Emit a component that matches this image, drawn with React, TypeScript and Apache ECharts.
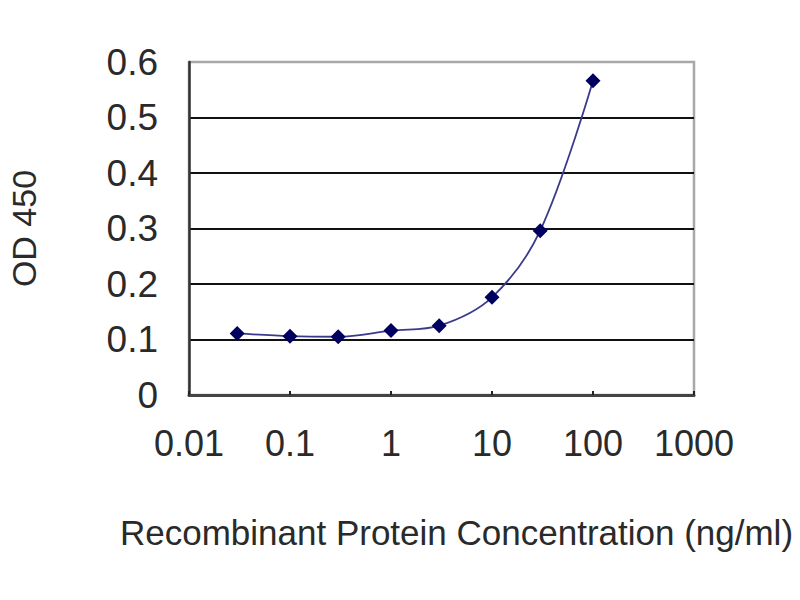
import { useEffect, useRef } from 'react'
import * as echarts from 'echarts'

// concentrations (ng/ml) and OD 450 readings
const concentrations = [0.03, 0.1, 0.3, 1, 3, 10, 30, 100]
const odValues = [0.111, 0.106, 0.105, 0.116, 0.125, 0.176, 0.296, 0.566]

const xTickLabels = ['0.01', '0.1', '1', '10', '100', '1000']
const yTickLabels = ['0', '0.1', '0.2', '0.3', '0.4', '0.5', '0.6']

const FONT = "'Liberation Sans', Arial, sans-serif"

export default function App() {
  const chartRef = useRef<HTMLDivElement>(null)

  useEffect(() => {
    if (!chartRef.current) return
    const chart = echarts.init(chartRef.current, undefined, { renderer: 'svg' })

    chart.setOption({
      animation: false,
      backgroundColor: '#ffffff',
      grid: {
        left: 189,
        right: 106,
        top: 62,
        bottom: 205,
        containLabel: false,
        outerBoundsMode: 'none',
        show: true,
        borderColor: '#a8a8a8',
        borderWidth: 2.5,
      },
      xAxis: {
        type: 'log',
        logBase: 10,
        min: 0.01,
        max: 1000,
        name: 'Recombinant Protein Concentration (ng/ml)',
        nameLocation: 'middle',
        nameGap: 120,
        nameTextStyle: {
          fontFamily: FONT,
          fontSize: 35,
          color: '#2a2a2a',
          padding: [0, 0, 0, 30],
        },
        axisLine: { lineStyle: { color: '#444', width: 3 } },
        axisTick: { show: true, inside: true, length: 4, lineStyle: { color: '#222', width: 2 } },
        axisLabel: {
          margin: 30,
          fontFamily: FONT,
          fontSize: 36,
          color: '#2a2a2a',
          formatter: (v: number) => xTickLabels[Math.round(Math.log10(v)) + 2] ?? String(v),
        },
        splitLine: { show: false },
        minorTick: { show: false },
      },
      yAxis: {
        type: 'value',
        min: 0,
        max: 0.6,
        interval: 0.1,
        name: 'OD 450',
        nameLocation: 'middle',
        nameGap: 148,
        nameRotate: 90,
        nameTextStyle: { fontFamily: FONT, fontSize: 34, color: '#2a2a2a' },
        axisLine: { show: true, lineStyle: { color: '#333', width: 2.5 } },
        axisTick: { show: false },
        axisLabel: {
          margin: 31,
          fontFamily: FONT,
          fontSize: 37,
          color: '#2a2a2a',
          formatter: (v: number) => yTickLabels[Math.round(v * 10)] ?? String(v),
        },
        splitLine: {
          show: true,
          showMinLine: false,
          showMaxLine: false,
          lineStyle: { color: '#111', width: 2 },
        },
      },
      series: [
        {
          type: 'line',
          data: concentrations.map((c, i) => [c, odValues[i]]),
          smooth: 0.35,
          symbol: 'diamond',
          symbolSize: 15,
          lineStyle: { color: '#3a3a8c', width: 1.8 },
          itemStyle: { color: '#000060' },
        },
      ],
    })

    return () => {
      chart.dispose()
    }
  }, [])

  return (
    <div
      ref={chartRef}
      style={{ position: 'fixed', left: 0, top: 0, width: '800px', height: '600px' }}
    />
  )
}
